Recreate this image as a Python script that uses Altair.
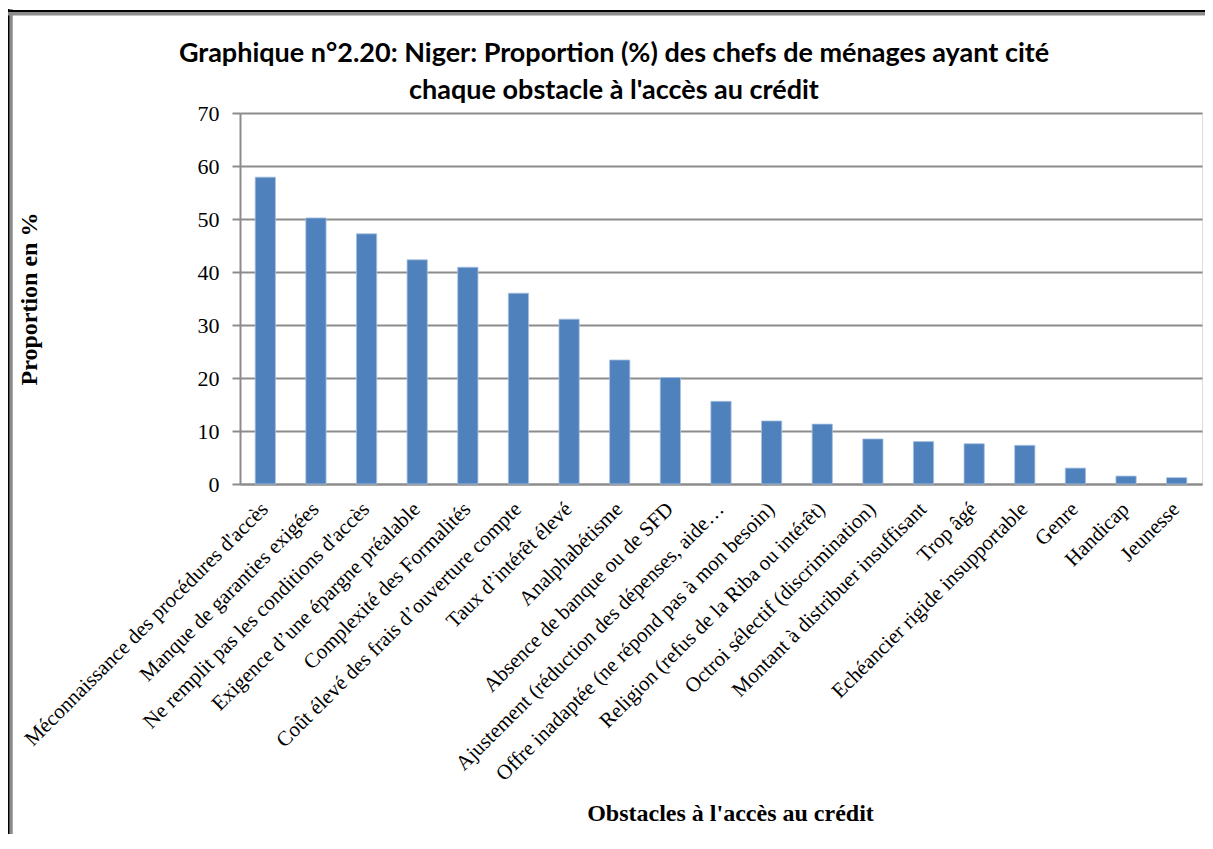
import altair as alt
import pandas as pd

categories = [
    "Méconnaissance des procédures d'accès",
    "Manque de garanties exigées",
    "Ne remplit pas les conditions d'accès",
    "Exigence d’une épargne préalable",
    "Complexité des Formalités",
    "Coût élevé des frais d’ouverture compte",
    "Taux d’intérêt élevé",
    "Analphabétisme",
    "Absence de banque ou de SFD",
    "Ajustement (réduction des dépenses, aide…",
    "Offre inadaptée (ne répond pas à mon besoin)",
    "Religion (refus de la Riba ou intérêt)",
    "Octroi sélectif (discrimination)",
    "Montant à distribuer insuffisant",
    "Trop âgé",
    "Echéancier rigide insupportable",
    "Genre",
    "Handicap",
    "Jeunesse",
]
values = [57.9, 50.2, 47.2, 42.3, 40.9, 36.0, 31.1, 23.4, 20.1, 15.6,
          11.9, 11.3, 8.5, 8.0, 7.6, 7.3, 3.0, 1.5, 1.2]
y_ticks = [0, 10, 20, 30, 40, 50, 60, 70]

df = pd.DataFrame({"cat": categories, "val": values})

W, H = 962, 371
GRID = "#8c8c8c"
SERIF = "Liberation Serif"

bars = alt.Chart(df).mark_bar(color="#4F81BD", stroke="#a9c1df", strokeWidth=0.8).encode(
    x=alt.X("cat:N", sort=None,
            scale=alt.Scale(paddingInner=0.6, paddingOuter=0.3),
            axis=alt.Axis(
                title="Obstacles à l'accès au crédit",
                titleFont=SERIF, titleFontSize=24, titleFontWeight="bold", titleColor="black",
                titleX=490, titleY=329, titleBaseline="middle", titleAlign="center",
                labelAngle=-45, labelAlign="right", labelBaseline="top",
                labelFont=SERIF, labelFontSize=21, labelColor="black",
                labelPadding=14, labelOffset=-8, labelLimit=0, labelOverlap=False,
                ticks=False, domain=True, domainColor=GRID, domainWidth=2,
                grid=False,
            )),
    y=alt.Y("val:Q",
            scale=alt.Scale(domain=[0, 70], nice=False),
            axis=alt.Axis(
                title="Proportion en %",
                titleFont=SERIF, titleFontSize=24, titleFontWeight="bold", titleColor="black",
                titleX=-211, titleY=H / 2, titleBaseline="middle", titleAlign="center", titleAngle=-90,
                values=y_ticks, format="d",
                labelFont=SERIF, labelFontSize=22, labelColor="black", labelPadding=13,
                tickSize=8, tickColor=GRID, tickWidth=2,
                domain=True, domainColor=GRID, domainWidth=2,
                grid=True, gridColor=GRID, gridWidth=2,
            )),
)

frame_data = alt.Data(values=[{"k": 1}])
frame_left_gray = alt.Chart(frame_data).mark_rule(color=GRID, strokeWidth=3.5).encode(
    x=alt.value(-229), y=alt.value(-104), y2=alt.value(740))
frame_left_black = alt.Chart(frame_data).mark_rule(color="black", strokeWidth=2).encode(
    x=alt.value(-231.5), y=alt.value(-104), y2=alt.value(740))
frame_top_gray = alt.Chart(frame_data).mark_rule(color=GRID, strokeWidth=3.5).encode(
    x=alt.value(-232), x2=alt.value(W + 10), y=alt.value(-99.25))
frame_top_black = alt.Chart(frame_data).mark_rule(color="black", strokeWidth=2).encode(
    x=alt.value(-232), x2=alt.value(W + 10), y=alt.value(-102))

chart = alt.layer(
    frame_left_gray, frame_left_black, frame_top_gray, frame_top_black, bars
).properties(
    width=W, height=H,
    padding={"left": 232, "top": 105, "right": 3, "bottom": 350},
    autosize=alt.AutoSizeParams(type="none"),
    title=alt.TitleParams(
        text=["Graphique n°2.20: Niger: Proportion (%) des chefs de ménages ayant cité",
              "chaque obstacle à l'accès au crédit"],
        font="Lato", fontSize=27, fontWeight="bold", color="black",
        anchor="middle", frame="group", dx=-107, dy=108, lineHeight=37, offset=10,
    ),
).configure_view(stroke=None).configure(background="white")

chart.save("out.html", embed_options={"renderer": "svg", "actions": False})
